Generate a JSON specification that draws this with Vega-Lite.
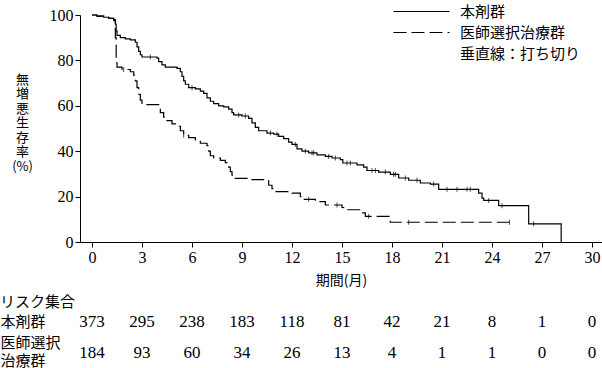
{
  "$schema": "https://vega.github.io/schema/vega-lite/v6.json",
  "padding": {"left": 0, "top": 4, "right": 0, "bottom": 0},
  "background": "white",
  "config": {
    "view": {"stroke": null},
    "font": "Noto Sans CJK JP",
    "axis": {"domainColor": "black", "tickColor": "black", "labelColor": "black", "titleColor": "black", "grid": false}
  },
  "datasets": {
    "km": [
      {"group": "本剤群", "month": 0, "pct": 100},
      {"group": "本剤群", "month": 0.3, "pct": 99.5},
      {"group": "本剤群", "month": 0.7, "pct": 99},
      {"group": "本剤群", "month": 1.0, "pct": 98.5},
      {"group": "本剤群", "month": 1.3, "pct": 98},
      {"group": "本剤群", "month": 1.4, "pct": 96},
      {"group": "本剤群", "month": 1.45, "pct": 93},
      {"group": "本剤群", "month": 1.5, "pct": 91},
      {"group": "本剤群", "month": 1.7, "pct": 90},
      {"group": "本剤群", "month": 2.0, "pct": 89.5},
      {"group": "本剤群", "month": 2.3, "pct": 89},
      {"group": "本剤群", "month": 2.6, "pct": 88},
      {"group": "本剤群", "month": 2.7, "pct": 86},
      {"group": "本剤群", "month": 2.8, "pct": 84},
      {"group": "本剤群", "month": 2.9, "pct": 82.5},
      {"group": "本剤群", "month": 3.0, "pct": 81.5},
      {"group": "本剤群", "month": 3.9, "pct": 81},
      {"group": "本剤群", "month": 4.0, "pct": 79.5},
      {"group": "本剤群", "month": 4.2, "pct": 78},
      {"group": "本剤群", "month": 4.4, "pct": 77},
      {"group": "本剤群", "month": 5.1, "pct": 76.5},
      {"group": "本剤群", "month": 5.3, "pct": 75},
      {"group": "本剤群", "month": 5.4, "pct": 73},
      {"group": "本剤群", "month": 5.5, "pct": 71},
      {"group": "本剤群", "month": 5.6, "pct": 69.5},
      {"group": "本剤群", "month": 5.8, "pct": 68},
      {"group": "本剤群", "month": 6.2, "pct": 67.5},
      {"group": "本剤群", "month": 6.5, "pct": 66.5},
      {"group": "本剤群", "month": 6.7, "pct": 65.5},
      {"group": "本剤群", "month": 6.9, "pct": 63.5},
      {"group": "本剤群", "month": 7.1, "pct": 62},
      {"group": "本剤群", "month": 7.3, "pct": 61},
      {"group": "本剤群", "month": 7.6, "pct": 60},
      {"group": "本剤群", "month": 7.9, "pct": 59.5},
      {"group": "本剤群", "month": 8.2, "pct": 58.5},
      {"group": "本剤群", "month": 8.4, "pct": 57},
      {"group": "本剤群", "month": 8.5, "pct": 56},
      {"group": "本剤群", "month": 9.0, "pct": 55.5},
      {"group": "本剤群", "month": 9.4, "pct": 54.5},
      {"group": "本剤群", "month": 9.6, "pct": 52.5},
      {"group": "本剤群", "month": 9.8, "pct": 50.5},
      {"group": "本剤群", "month": 10.0, "pct": 49},
      {"group": "本剤群", "month": 10.5, "pct": 48},
      {"group": "本剤群", "month": 10.9, "pct": 47.5},
      {"group": "本剤群", "month": 11.2, "pct": 46.5},
      {"group": "本剤群", "month": 11.5, "pct": 45.5},
      {"group": "本剤群", "month": 11.8, "pct": 44},
      {"group": "本剤群", "month": 12.0, "pct": 43},
      {"group": "本剤群", "month": 12.3, "pct": 41},
      {"group": "本剤群", "month": 12.6, "pct": 40},
      {"group": "本剤群", "month": 13.0, "pct": 39.3},
      {"group": "本剤群", "month": 13.5, "pct": 38.4},
      {"group": "本剤群", "month": 14.0, "pct": 37.7},
      {"group": "本剤群", "month": 14.4, "pct": 37},
      {"group": "本剤群", "month": 14.9, "pct": 36.3},
      {"group": "本剤群", "month": 15.05, "pct": 34.8},
      {"group": "本剤群", "month": 15.9, "pct": 34},
      {"group": "本剤群", "month": 16.3, "pct": 33},
      {"group": "本剤群", "month": 16.5, "pct": 31.5},
      {"group": "本剤群", "month": 17.2, "pct": 30.8},
      {"group": "本剤群", "month": 17.9, "pct": 29.8},
      {"group": "本剤群", "month": 18.4, "pct": 28.2},
      {"group": "本剤群", "month": 19.0, "pct": 27.2},
      {"group": "本剤群", "month": 19.7, "pct": 26},
      {"group": "本剤群", "month": 20.3, "pct": 25.5},
      {"group": "本剤群", "month": 20.8, "pct": 23.2},
      {"group": "本剤群", "month": 23.2, "pct": 21.5},
      {"group": "本剤群", "month": 23.4, "pct": 19.3},
      {"group": "本剤群", "month": 23.5, "pct": 18.3},
      {"group": "本剤群", "month": 24.4, "pct": 16},
      {"group": "本剤群", "month": 26.2, "pct": 8},
      {"group": "本剤群", "month": 28.15, "pct": 0},
      {"group": "医師選択治療群", "month": 0, "pct": 100},
      {"group": "医師選択治療群", "month": 0.3, "pct": 99.5},
      {"group": "医師選択治療群", "month": 0.7, "pct": 99},
      {"group": "医師選択治療群", "month": 1.0, "pct": 98.5},
      {"group": "医師選択治療群", "month": 1.3, "pct": 97.5},
      {"group": "医師選択治療群", "month": 1.4, "pct": 90},
      {"group": "医師選択治療群", "month": 1.45, "pct": 80},
      {"group": "医師選択治療群", "month": 1.5, "pct": 77},
      {"group": "医師選択治療群", "month": 1.8, "pct": 76},
      {"group": "医師選択治療群", "month": 2.3, "pct": 75},
      {"group": "医師選択治療群", "month": 2.5, "pct": 73.5},
      {"group": "医師選択治療群", "month": 2.6, "pct": 71},
      {"group": "医師選択治療群", "month": 2.7, "pct": 68},
      {"group": "医師選択治療群", "month": 2.8, "pct": 65},
      {"group": "医師選択治療群", "month": 2.9, "pct": 62.5},
      {"group": "医師選択治療群", "month": 3.0, "pct": 60.5},
      {"group": "医師選択治療群", "month": 4.0, "pct": 59},
      {"group": "医師選択治療群", "month": 4.1, "pct": 57},
      {"group": "医師選択治療群", "month": 4.3, "pct": 55},
      {"group": "医師選択治療群", "month": 4.5, "pct": 53.5},
      {"group": "医師選択治療群", "month": 4.8, "pct": 52},
      {"group": "医師選択治療群", "month": 5.1, "pct": 51},
      {"group": "医師選択治療群", "month": 5.3, "pct": 49},
      {"group": "医師選択治療群", "month": 5.5, "pct": 47},
      {"group": "医師選択治療群", "month": 5.8, "pct": 46},
      {"group": "医師選択治療群", "month": 6.2, "pct": 45},
      {"group": "医師選択治療群", "month": 6.5, "pct": 43.5},
      {"group": "医師選択治療群", "month": 6.9, "pct": 42.5},
      {"group": "医師選択治療群", "month": 7.0, "pct": 40},
      {"group": "医師選択治療群", "month": 7.1, "pct": 38},
      {"group": "医師選択治療群", "month": 7.3, "pct": 37},
      {"group": "医師選択治療群", "month": 7.7, "pct": 36},
      {"group": "医師選択治療群", "month": 8.0, "pct": 35},
      {"group": "医師選択治療群", "month": 8.2, "pct": 33},
      {"group": "医師選択治療群", "month": 8.3, "pct": 31},
      {"group": "医師選択治療群", "month": 8.4, "pct": 29.5},
      {"group": "医師選択治療群", "month": 8.5, "pct": 28},
      {"group": "医師選択治療群", "month": 9.3, "pct": 27.5},
      {"group": "医師選択治療群", "month": 10.3, "pct": 27},
      {"group": "医師選択治療群", "month": 10.6, "pct": 25},
      {"group": "医師選択治療群", "month": 10.8, "pct": 23.5},
      {"group": "医師選択治療群", "month": 11.0, "pct": 22.2},
      {"group": "医師選択治療群", "month": 12.0, "pct": 21.5},
      {"group": "医師選択治療群", "month": 12.5, "pct": 20},
      {"group": "医師選択治療群", "month": 12.7, "pct": 18.8},
      {"group": "医師選択治療群", "month": 13.4, "pct": 17.8},
      {"group": "医師選択治療群", "month": 14.0, "pct": 16.3},
      {"group": "医師選択治療群", "month": 15.0, "pct": 15.2},
      {"group": "医師選択治療群", "month": 15.1, "pct": 14.2},
      {"group": "医師選択治療群", "month": 16.2, "pct": 12.8},
      {"group": "医師選択治療群", "month": 16.4, "pct": 11.3},
      {"group": "医師選択治療群", "month": 17.9, "pct": 8.7},
      {"group": "医師選択治療群", "month": 25.05, "pct": 8.7}
    ],
    "cens": [
      {"month": 3.5, "pct": 81.5}, {"month": 6.0, "pct": 68}, {"month": 8.8, "pct": 56},
      {"month": 9.2, "pct": 55.5}, {"month": 10.7, "pct": 48}, {"month": 11.1, "pct": 47.5},
      {"month": 12.2, "pct": 43}, {"month": 12.8, "pct": 40}, {"month": 13.2, "pct": 39.3},
      {"month": 13.3, "pct": 39.3}, {"month": 14.2, "pct": 37.7}, {"month": 14.6, "pct": 37},
      {"month": 15.3, "pct": 34.8}, {"month": 15.5, "pct": 34.8}, {"month": 16.8, "pct": 31.5},
      {"month": 17.0, "pct": 31.5}, {"month": 17.6, "pct": 30.8}, {"month": 18.1, "pct": 29.8},
      {"month": 18.2, "pct": 29.8}, {"month": 18.8, "pct": 28.2}, {"month": 19.5, "pct": 27.2},
      {"month": 20.5, "pct": 25.5}, {"month": 21.3, "pct": 23.2}, {"month": 21.9, "pct": 23.2},
      {"month": 22.5, "pct": 23.2}, {"month": 22.7, "pct": 23.2}, {"month": 23.8, "pct": 18.3},
      {"month": 24.6, "pct": 16}, {"month": 26.5, "pct": 8},
      {"month": 1.9, "pct": 76}, {"month": 5.5, "pct": 47}, {"month": 13.0, "pct": 18.8},
      {"month": 14.7, "pct": 16.3}, {"month": 16.6, "pct": 11.3}, {"month": 19.0, "pct": 8.7},
      {"month": 25.05, "pct": 8.7}
    ],
    "risk": [
      {"group": "本剤群", "month": 0, "n": 373}, {"group": "本剤群", "month": 3, "n": 295},
      {"group": "本剤群", "month": 6, "n": 238}, {"group": "本剤群", "month": 9, "n": 183},
      {"group": "本剤群", "month": 12, "n": 118}, {"group": "本剤群", "month": 15, "n": 81},
      {"group": "本剤群", "month": 18, "n": 42}, {"group": "本剤群", "month": 21, "n": 21},
      {"group": "本剤群", "month": 24, "n": 8}, {"group": "本剤群", "month": 27, "n": 1},
      {"group": "本剤群", "month": 30, "n": 0},
      {"group": "医師選択治療群", "month": 0, "n": 184}, {"group": "医師選択治療群", "month": 3, "n": 93},
      {"group": "医師選択治療群", "month": 6, "n": 60}, {"group": "医師選択治療群", "month": 9, "n": 34},
      {"group": "医師選択治療群", "month": 12, "n": 26}, {"group": "医師選択治療群", "month": 15, "n": 13},
      {"group": "医師選択治療群", "month": 18, "n": 4}, {"group": "医師選択治療群", "month": 21, "n": 1},
      {"group": "医師選択治療群", "month": 24, "n": 1}, {"group": "医師選択治療群", "month": 27, "n": 0},
      {"group": "医師選択治療群", "month": 30, "n": 0}
    ]
  },
  "vconcat": [
    {
      "width": 522,
      "height": 227,
      "layer": [
        {
          "data": {"name": "km"},
          "mark": {"type": "line", "interpolate": "step-after", "color": "black", "strokeWidth": 1.2},
          "encoding": {
            "x": {"field": "month", "type": "quantitative",
                  "scale": {"domain": [-0.72, 30.6], "nice": false, "zero": false},
                  "axis": {"values": [0, 3, 6, 9, 12, 15, 18, 21, 24, 27, 30], "title": "期間(月)",
                           "labelFont": "Liberation Serif", "labelFontSize": 16, "tickSize": 5, "labelPadding": 2,
                           "titleFont": "Noto Sans CJK JP", "titleFontSize": 14, "titleFontWeight": "normal", "titlePadding": 8}},
            "y": {"field": "pct", "type": "quantitative",
                  "scale": {"domain": [0, 100], "nice": false},
                  "axis": {"values": [0, 20, 40, 60, 80, 100], "labelFont": "Liberation Serif", "labelFontSize": 16,
                           "tickSize": 5, "labelPadding": 2,
                           "title": ["無", "増", "悪", "生", "存", "率", "(%)"],
                           "titleFont": "Noto Sans CJK JP", "titleFontSize": 13, "titleFontWeight": "normal",
                           "titleAngle": 0, "titleLineHeight": 14.5, "titleAlign": "center", "titleBaseline": "top",
                           "titleX": -58, "titleY": 58}},
            "strokeDash": {"field": "group", "type": "nominal",
                           "scale": {"domain": ["本剤群", "医師選択治療群", "垂直線：打ち切り"],
                                     "range": [[1, 0], [13, 5], [0, 1000]]},
                           "legend": {"title": null, "orient": "none", "legendX": 334, "legendY": -11,
                                      "symbolType": "M-8,0H8", "symbolSize": 49, "symbolStrokeColor": "black",
                                      "symbolStrokeWidth": 1.2, "labelFont": "Noto Sans CJK JP", "labelFontSize": 15,
                                      "labelColor": "black", "labelOffset": 31, "rowPadding": 5, "labelLimit": 300}}
          }
        },
        {
          "data": {"name": "cens"},
          "mark": {"type": "tick", "orient": "vertical", "size": 5, "thickness": 1, "color": "black"},
          "encoding": {
            "x": {"field": "month", "type": "quantitative"},
            "y": {"field": "pct", "type": "quantitative"}
          }
        }
      ]
    },
    {
      "width": 522,
      "height": 62,
      "data": {"name": "risk"},
      "title": {"text": "リスク集合", "anchor": "start", "frame": "bounds", "font": "Noto Sans CJK JP",
                "fontSize": 15, "fontWeight": "normal", "color": "black", "offset": -4},
      "mark": {"type": "text", "font": "Liberation Serif", "fontSize": 17, "color": "black"},
      "encoding": {
        "x": {"field": "month", "type": "quantitative",
              "scale": {"domain": [-0.72, 30.6], "nice": false, "zero": false}, "axis": null},
        "y": {"field": "group", "type": "nominal",
              "scale": {"type": "point", "domain": ["本剤群", "医師選択治療群"], "padding": 0.5},
              "axis": {"title": null, "domain": false, "ticks": false, "labelAlign": "left", "labelPadding": 80,
                       "labelFont": "Noto Sans CJK JP", "labelFontSize": 15, "labelLineHeight": 18,
                       "labelOffset": {"condition": {"test": "datum.value == '医師選択治療群'", "value": -10.5}, "value": 0},
                       "labelExpr": "datum.value == '医師選択治療群' ? ['医師選択', '治療群'] : datum.value"}},
        "text": {"field": "n", "type": "quantitative"}
      }
    }
  ],
  "spacing": 8
}
